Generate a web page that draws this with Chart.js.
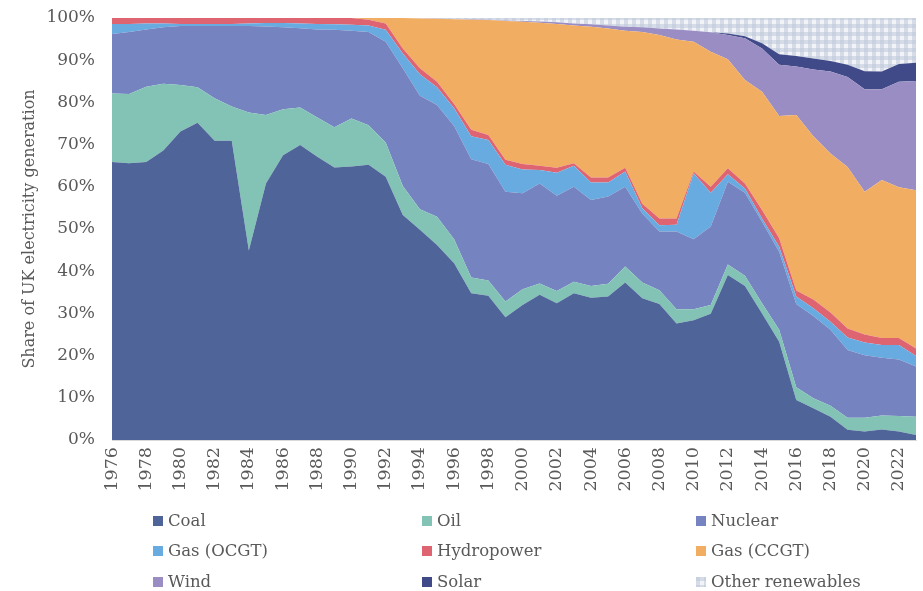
<!DOCTYPE html>
<html>
<head>
<meta charset="utf-8">
<script src="https://cdn.jsdelivr.net/npm/chart.js@4.4.1/dist/chart.umd.min.js"></script>
<style>
  html, body { margin: 0; padding: 0; background: #fff; }
  #wrap { position: relative; width: 923px; height: 591px; }
  #chart_area { position: absolute; left: 0; top: 0; }
  .lg { position: absolute; font-family: "DejaVu Serif", serif; font-size: 16.5px; color: #595959; line-height: 20px; white-space: nowrap; }
  .lg i { position: absolute; left: 0; top: 5px; width: 10px; height: 10px; }
  .lg span { position: absolute; left: 15px; top: 0; }
</style>
</head>
<body>
<div id="wrap">
  <canvas id="chart_area" width="923" height="591"></canvas>
  <div id="legend"></div>
</div>
<script>
// years on the x axis
const years = [];
for (let y = 1976; y <= 2023; y++) years.push(String(y));

// shares of UK electricity generation, %
const coal = [65.9,65.6,65.9,68.6,73.1,75.2,70.9,70.9,44.9,60.8,67.5,69.9,67.1,64.6,64.8,65.2,
  62.4,53.3,49.8,46.2,41.9,34.8,34.2,29.1,32.0,34.4,32.4,34.8,33.7,34.0,37.3,33.6,
  32.2,27.6,28.4,29.9,39.1,36.5,30.0,23.3,9.5,7.5,5.5,2.4,2.0,2.5,2.0,1.2];
const oil = [16.2,16.4,17.8,15.8,11.0,8.4,10.1,8.1,32.7,16.2,10.9,8.9,9.3,9.5,11.4,9.4,
  8.1,6.9,4.9,6.7,5.7,3.7,3.6,3.7,3.7,2.7,2.9,2.7,2.8,3.0,3.8,3.7,
  3.3,3.4,2.6,2.1,2.5,2.4,2.4,2.8,3.0,2.4,2.6,2.9,3.3,3.3,3.7,4.3];
const nuclear = [14.1,14.7,13.6,13.4,14.0,14.5,17.1,19.1,20.5,21.0,19.4,18.8,20.9,23.1,20.8,22.1,
  23.9,27.9,26.9,26.5,26.8,28.0,27.6,26.0,22.8,23.7,22.6,22.5,20.4,20.7,18.9,16.4,
  13.9,18.4,16.6,18.6,19.6,19.7,19.3,18.5,19.7,19.5,18.0,16.0,14.8,13.7,13.4,11.9];
const gasOcgt = [2.4,1.9,1.4,0.9,0.5,0.5,0.5,0.5,0.6,0.8,1.0,1.1,1.3,1.3,1.4,1.5,
  2.8,3.5,5.1,4.2,4.2,5.5,5.7,6.4,5.6,3.2,5.4,5.0,4.1,3.3,3.6,1.2,
  1.5,1.6,15.6,8.0,1.8,1.0,0.8,1.2,1.8,1.8,1.9,3.0,3.0,3.0,3.4,2.5];
const hydro = [1.4,1.4,1.3,1.3,1.4,1.4,1.4,1.4,1.3,1.2,1.2,1.3,1.4,1.5,1.6,1.4,
  1.5,1.2,1.4,1.3,1.0,1.5,1.2,1.2,1.3,1.0,1.2,0.6,1.2,1.2,0.9,1.1,
  1.6,1.5,0.4,1.4,1.4,1.2,2.0,2.0,1.4,2.1,2.2,2.1,1.9,1.7,1.7,1.8];
const gasCcgt = [0,0,0,0,0,0,0,0,0,0,0,0,0,0,0,0.4,
  1.3,7.2,11.8,14.9,20.1,26.1,27.2,32.9,33.7,33.9,34.1,32.6,35.7,35.3,32.5,40.7,
  43.5,42.4,30.8,32.0,25.8,24.5,28.0,29.0,41.6,38.7,37.7,38.3,33.8,37.4,35.7,37.5];
const wind = [0,0,0,0,0,0,0,0,0,0,0,0,0,0,0,0,
  0,0,0,0.1,0,0.1,0.1,0.1,0.2,0.3,0.4,0.5,0.6,0.7,0.9,1.1,
  1.5,2.4,2.6,4.6,5.8,9.9,10.3,12.1,11.5,15.8,19.4,21.3,24.3,21.5,25.0,25.9];
const solar = [0,0,0,0,0,0,0,0,0,0,0,0,0,0,0,0,
  0,0,0,0,0,0,0,0,0,0,0,0,0,0,0,0,
  0,0,0,0.05,0.3,0.5,1.2,2.5,2.5,2.6,2.5,2.9,4.3,4.2,4.2,4.3];
const otherRen = [0,0,0,0,0,0,0,0,0,0,0,0,0,0,0,0,
  0,0,0.1,0.1,0.3,0.3,0.4,0.6,0.7,0.8,1.0,1.3,1.5,1.8,2.1,2.2,
  2.5,2.7,3.0,3.4,3.7,4.3,6.0,8.6,9.0,9.6,10.2,11.4,12.6,12.7,10.9,10.6];

const yTicks = [0,10,20,30,40,50,60,70,80,90,100];

// gingham-like fill for "Other renewables"
function makeCheck() {
  const c = document.createElement('canvas');
  c.width = 8; c.height = 8;
  const g = c.getContext('2d');
  g.fillStyle = '#f1f3f7';
  g.fillRect(0, 0, 8, 8);
  g.fillStyle = 'rgba(190,200,218,0.55)';
  g.fillRect(0, 0, 4, 8);
  g.fillRect(0, 0, 8, 4);
  return c;
}
const checkCanvas = makeCheck();
let ctx = document.getElementById('chart_area').getContext('2d');
const checkFill = ctx.createPattern(checkCanvas, 'repeat');

const series = [
  { label: 'Coal', data: coal, color: '#4f6499' },
  { label: 'Oil', data: oil, color: '#82c3b6' },
  { label: 'Nuclear', data: nuclear, color: '#7584c0' },
  { label: 'Gas (OCGT)', data: gasOcgt, color: '#67abe0' },
  { label: 'Hydropower', data: hydro, color: '#df6471' },
  { label: 'Gas (CCGT)', data: gasCcgt, color: '#f1ad62' },
  { label: 'Wind', data: wind, color: '#9a8dc4' },
  { label: 'Solar', data: solar, color: '#414a89' },
  { label: 'Other renewables', data: otherRen, color: checkFill }
];

function drawChartData() {
  return {
    labels: years,
    datasets: series.map((s, i) => ({
      label: s.label,
      data: s.data,
      backgroundColor: s.color,
      borderColor: s.color,
      borderWidth: 0,
      pointRadius: 0,
      tension: 0,
      fill: i === 0 ? 'origin' : '-1'
    }))
  };
}

const txt = '#595959';
const fontFam = "'DejaVu Serif', serif";

function drawChartOption() {
  return {
    responsive: false,
    animation: false,
    layout: { padding: { top: 18, right: 7, left: 0, bottom: 0 } },
    plugins: { legend: { display: false }, tooltip: { enabled: false } },
    scales: {
      x: {
        type: 'category',
        offset: false,
        grid: { display: false, drawTicks: false },
        border: { display: true, color: '#d9d9d9', width: 1 },
        ticks: {
          autoSkip: false,
          minRotation: 90,
          maxRotation: 90,
          padding: 7,
          color: txt,
          font: { family: fontFam, size: 17.5 },
          callback: function (v, i) { return i % 2 === 0 ? years[i] : ''; }
        },
        afterFit: function (axis) {
          axis.height = 151;
          axis.paddingLeft = 0;
          axis.paddingRight = 0;
        }
      },
      y: {
        stacked: true,
        min: 0,
        max: 100,
        grid: { display: false, drawTicks: false },
        border: { display: false },
        afterBuildTicks: function (axis) { axis.ticks = yTicks.map(v => ({ value: v })); },
        ticks: {
          padding: 17,
          color: txt,
          font: { family: fontFam, size: 17 },
          callback: function (v) { return v + '%'; }
        },
        title: {
          display: true,
          text: 'Share of UK electricity generation',
          color: txt,
          font: { family: fontFam, size: 16 },
          padding: { top: 20, bottom: 0 }
        },
        afterFit: function (axis) {
          axis.width = 112;
          axis.paddingTop = 0;
          axis.paddingBottom = 0;
        }
      }
    }
  };
}

let chart = new Chart(ctx, {
  type: 'line',
  data: drawChartData(),
  options: drawChartOption()
});

// legend laid out in three columns like the original
const legendCols = [153, 422, 696];
const legendRows = [520.5, 551, 581.5];
const lg = document.getElementById('legend');
series.forEach((s, i) => {
  const d = document.createElement('div');
  d.className = 'lg';
  d.style.left = legendCols[i % 3] + 'px';
  d.style.top = (legendRows[Math.floor(i / 3)] - 10) + 'px';
  const sw = document.createElement('i');
  if (typeof s.color === 'string') sw.style.background = s.color;
  else sw.style.background = 'url(' + checkCanvas.toDataURL() + ')';
  const t = document.createElement('span');
  t.textContent = s.label;
  d.appendChild(sw);
  d.appendChild(t);
  lg.appendChild(d);
});
</script>
</body>
</html>
